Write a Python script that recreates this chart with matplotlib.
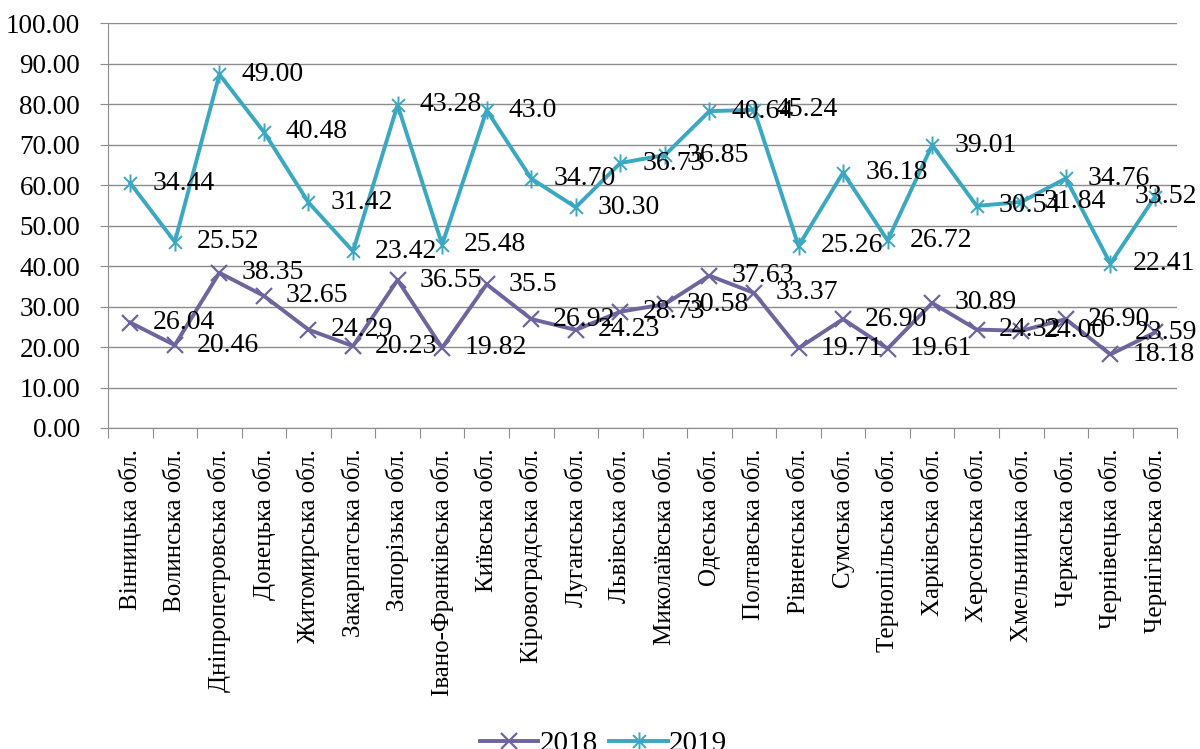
import numpy as np
import matplotlib
matplotlib.use("Agg")
import matplotlib.pyplot as plt
from matplotlib.path import Path

regions = [
    "Вінницька обл.", "Волинська обл.", "Дніпропетровська обл.", "Донецька обл.",
    "Житомирська обл.", "Закарпатська обл.", "Запорізька обл.", "Івано-Франківська обл.",
    "Київська обл.", "Кіровоградська обл.", "Луганська обл.", "Львівська обл.",
    "Миколаївська обл.", "Одеська обл.", "Полтавська обл.", "Рівненська обл.",
    "Сумська обл.", "Тернопільська обл.", "Харківська обл.", "Херсонська обл.",
    "Хмельницька обл.", "Черкаська обл.", "Чернівецька обл.", "Чернігівська обл.",
]
v2018 = [26.04, 20.46, 38.35, 32.65, 24.29, 20.23, 36.55, 19.82, 35.5, 26.92, 24.23, 28.73,
         30.58, 37.63, 33.37, 19.71, 26.90, 19.61, 30.89, 24.32, 24.00, 26.90, 18.18, 23.59]
v2019 = [34.44, 25.52, 49.00, 40.48, 31.42, 23.42, 43.28, 25.48, 43.0, 34.70, 30.30, 36.73,
         36.85, 40.64, 45.24, 25.26, 36.18, 26.72, 39.01, 30.54, 31.84, 34.76, 22.41, 33.52]
lbl2018 = ["26.04", "20.46", "38.35", "32.65", "24.29", "20.23", "36.55", "19.82", "35.5", "26.92",
           "24.23", "28.73", "30.58", "37.63", "33.37", "19.71", "26.90", "19.61", "30.89", "24.32",
           "24.00", "26.90", "18.18", "23.59"]
lbl2019 = ["34.44", "25.52", "49.00", "40.48", "31.42", "23.42", "43.28", "25.48", "43.0", "34.70",
           "30.30", "36.73", "36.85", "40.64", "45.24", "25.26", "36.18", "26.72", "39.01", "30.54",
           "31.84", "34.76", "22.41", "33.52"]
yticks = [0, 10, 20, 30, 40, 50, 60, 70, 80, 90, 100]

plt.rcParams['font.family'] = ['Liberation Serif', 'DejaVu Serif']

# stacked line: 2019 sits on top of 2018
x = np.arange(len(regions))
s2018 = np.array(v2018)
s2019 = s2018 + np.array(v2019)

# excel-like star marker: X with a vertical stroke
star = Path([(-1, -1), (1, 1), (-1, 1), (1, -1), (0, -1.4), (0, 1.4)],
            [Path.MOVETO, Path.LINETO, Path.MOVETO, Path.LINETO, Path.MOVETO, Path.LINETO])

c2018 = '#6E649E'
c2019 = '#3AA8C1'

fig, ax = plt.subplots(figsize=(12, 7.49), dpi=100)
fig.subplots_adjust(left=0.09, right=0.981, top=0.969, bottom=0.4286)

ax.plot(x, s2018, color=c2018, lw=2.8, marker='x', ms=12, mew=1.6, label='2018', zorder=3)
ax.plot(x, s2019, color=c2019, lw=2.8, marker=star, ms=13, mew=1.4, label='2019', zorder=4)


def put_labels(ys, texts):
    last = len(texts) - 1
    for i, (xi, yi, t) in enumerate(zip(x, ys, texts)):
        # last label is pulled back so it stays inside the figure
        if i == last:
            off, ha = (42, 0), 'right'
        else:
            off, ha = (22, 0), 'left'
        ax.annotate(t, (xi, yi), xytext=off, textcoords='offset pixels',
                    ha=ha, va='center', fontsize=20, zorder=5)


put_labels(s2018, lbl2018)
put_labels(s2019, lbl2019)

ax.set_xlim(-0.5, len(regions) - 0.5)
ax.set_ylim(0, 100)
ax.set_yticks(yticks)
ax.set_yticklabels([f"{v:.2f}" for v in yticks], fontsize=19.5)
ax.yaxis.grid(True, color='#8C8C8C', lw=1)
ax.set_axisbelow(True)

# category labels between boundary tick marks
ax.set_xticks(np.arange(-0.5, len(regions)), labels=[])
ax.set_xticks(x, labels=regions, minor=True, rotation=90, fontsize=18)
ax.tick_params(axis='x', which='major', length=7, color='#8C8C8C', direction='out')
ax.tick_params(axis='x', which='minor', length=0, pad=15)
ax.tick_params(axis='y', length=6, color='#8C8C8C', pad=14)

for side in ['top', 'right']:
    ax.spines[side].set_visible(False)
for side in ['left', 'bottom']:
    ax.spines[side].set_color('#8C8C8C')

fig.legend(loc='center', bbox_to_anchor=(0.503, 0.007), ncol=2, frameon=False,
           fontsize=21, handlelength=2.0, columnspacing=0.4, handletextpad=0.05)

fig.savefig('out.png', dpi=100)
